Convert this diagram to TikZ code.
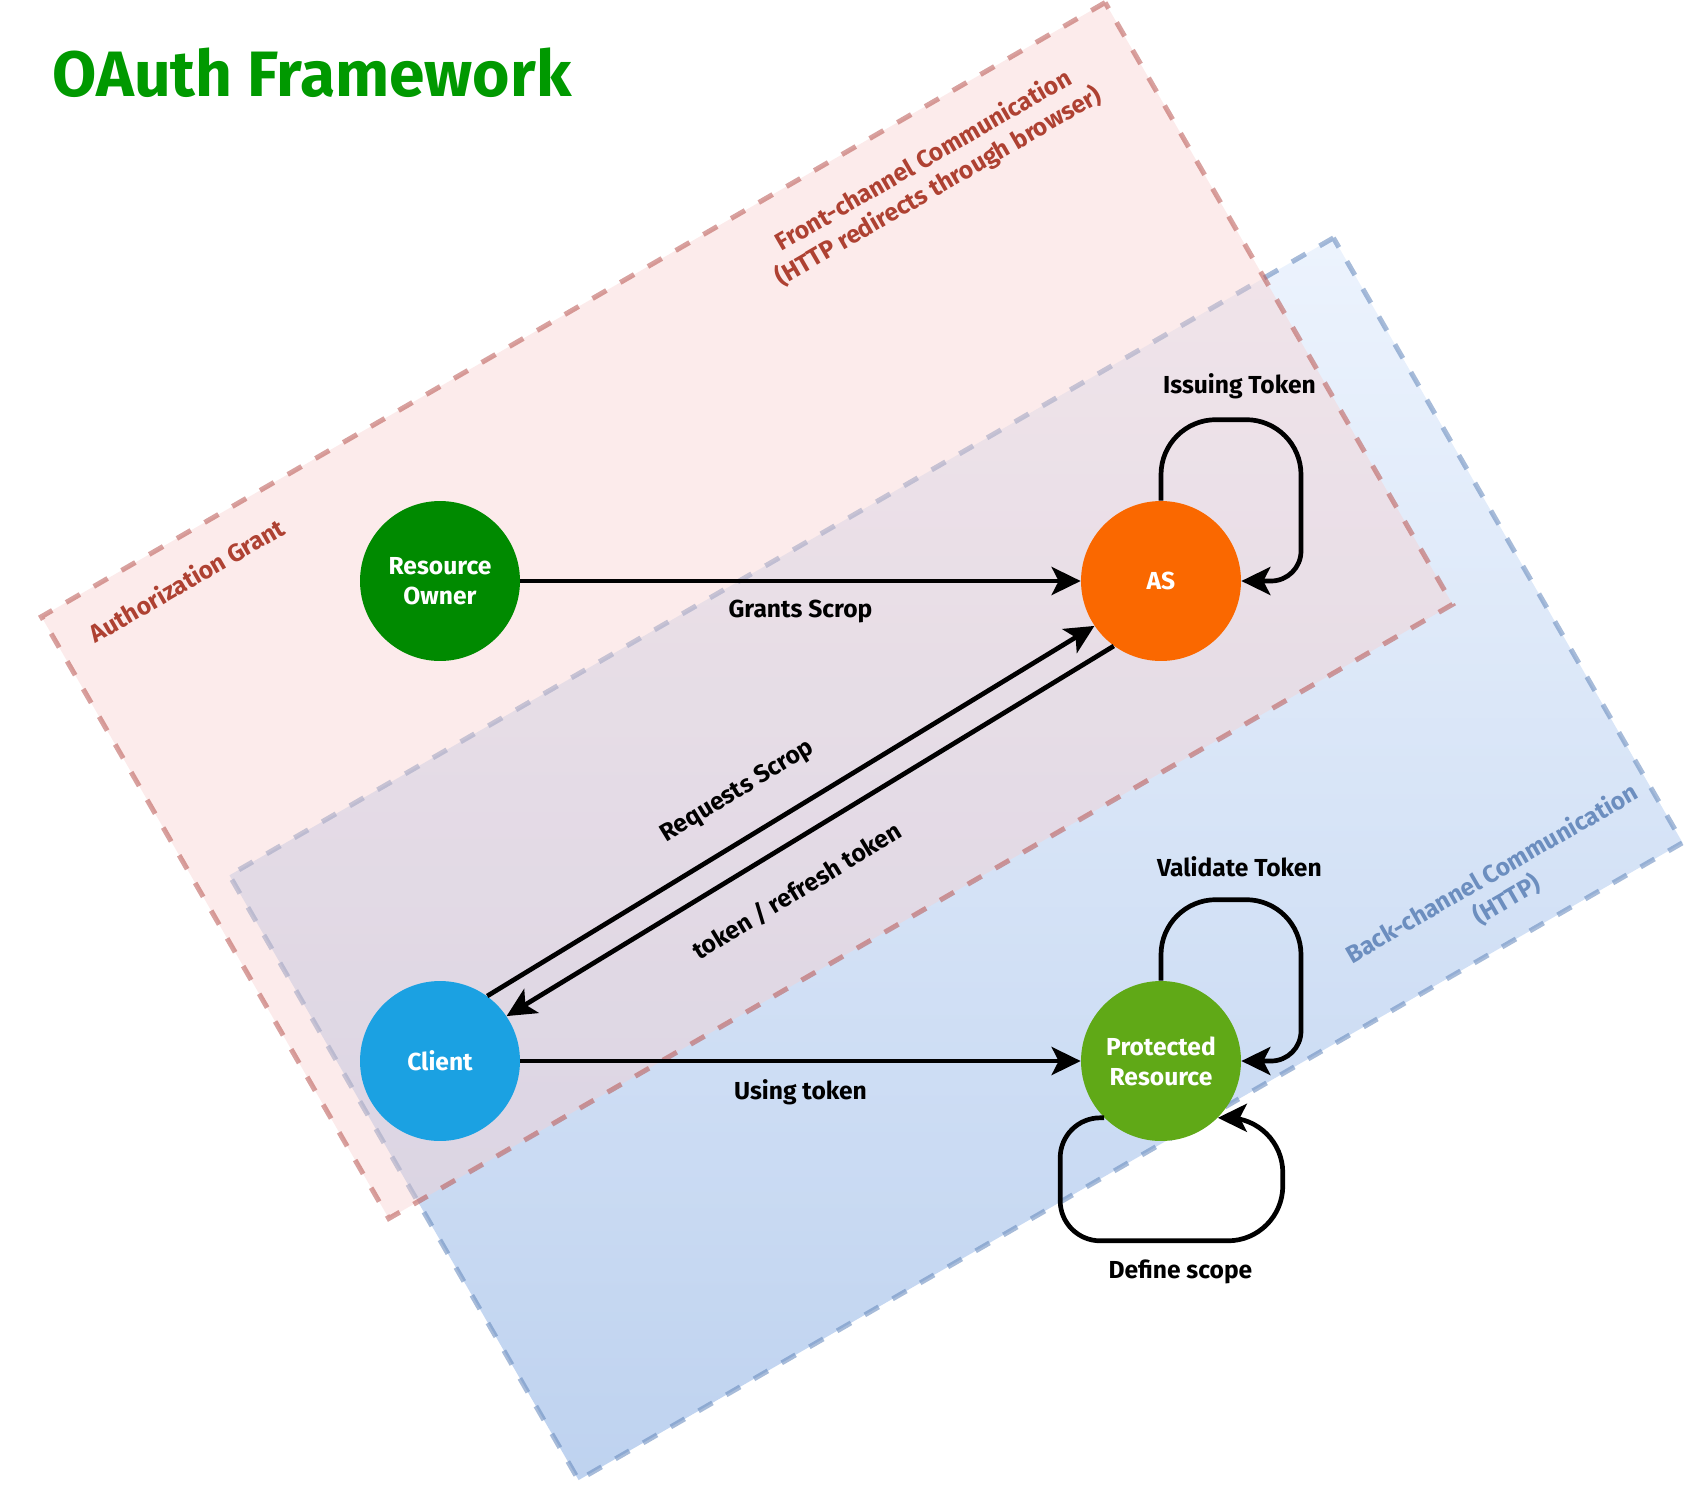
\documentclass[tikz,border=0pt]{standalone}
\usepackage{fontspec}
\setmainfont{Fira Sans}
\usepackage{tikz}
\usetikzlibrary{arrows.meta}
\tikzset{>={Stealth[length=5.8mm,width=5.6mm,inset=1.4mm]}}
\definecolor{frontfill}{HTML}{F8CECC}
\definecolor{frontline}{HTML}{B85450}
\definecolor{fronttext}{HTML}{AE4132}
\definecolor{backtop}{HTML}{DAE8FC}
\definecolor{backbottom}{HTML}{7EA6E0}
\definecolor{backline}{HTML}{6C8EBF}
\definecolor{ownergreen}{HTML}{008A00}
\definecolor{asorange}{HTML}{FA6800}
\definecolor{clientblue}{HTML}{1BA1E2}
\definecolor{resourcegreen}{HTML}{60A917}
\definecolor{titlegreen}{HTML}{009900}

\begin{document}
\begin{tikzpicture}[x=0.02cm, y=-0.02cm, font=\bfseries\fontsize{14}{17}\selectfont,
  actor/.style={circle, minimum size=3.2cm, inner sep=0pt, text=white, align=center},
  flow/.style={->, line width=0.094cm},
  channel/.style={rotate=30, line width=0.1cm, dash pattern=on 0.32cm off 0.32cm}]
  \useasboundingbox (0,0) rectangle (1690,1484);
  \node (back) at (956,859) [channel, draw=backline, draw opacity=0.6, top color=backtop, bottom color=backbottom, fill opacity=0.5, minimum width=25.5cm, minimum height=13.97cm] {};
  \node (front) at (747,610.5) [channel, draw=frontline, draw opacity=0.55, fill=frontfill, fill opacity=0.4, minimum width=24.57cm, minimum height=13.9cm] {};
  \node (fronttitle) at (931.5,174) [rotate=30, text=fronttext, align=center] {Front-channel Communication\\(HTTP redirects through browser)};
  \node (granttitle) at (186.5,580) [rotate=30, text=fronttext] {Authorization Grant};
  \node (backtitle) at (1499.5,887) [rotate=30, text=backline, align=center] {Back-channel Communication\\(HTTP)};
  \node (title) at (312,73) [text=titlegreen, font=\bfseries\fontsize{36.5}{42}\selectfont] {OAuth Framework};

  \node (owner) at (440,581) [actor, fill=ownergreen] {Resource\\Owner};
  \node (as) at (1161,581) [actor, fill=asorange] {AS};
  \node (client) at (440,1061) [actor, fill=clientblue] {Client};
  \node (resource) at (1161,1061) [actor, fill=resourcegreen] {Protected\\Resource};

  \draw[flow] (owner) -- node[midway, below=6pt] {Grants Scrop} (as);
  \draw[flow] (client.54) -- node[pos=0.45, sloped, above=14pt] {Requests Scrop} (as.214);
  \draw[flow] (as.234) -- node[pos=0.56, sloped, below=14pt] {token / refresh token} (client.34);
  \draw[flow] (client) -- node[midway, below=6pt] {Using token} (resource);
  \draw[flow] (as.north) [rounded corners=1.1cm] |- node[pos=0.78, above=7pt] {Issuing Token} ++(140,-81) [rounded corners=0.6cm] |- (as.east);
  \draw[flow] (resource.north) [rounded corners=1.1cm] |- node[pos=0.78, above=8pt] {Validate Token} ++(140,-81) [rounded corners=0.6cm] |- (resource.east);
  \draw[flow] (resource.225) [rounded corners=0.8cm] -| ++(-44,123) [rounded corners=1.1cm] -| node[pos=0.27, below=6pt] {Define scope} ([xshift=1.3cm]resource.315) [rounded corners=0.6cm] -- (resource.315);
\end{tikzpicture}
\end{document}
